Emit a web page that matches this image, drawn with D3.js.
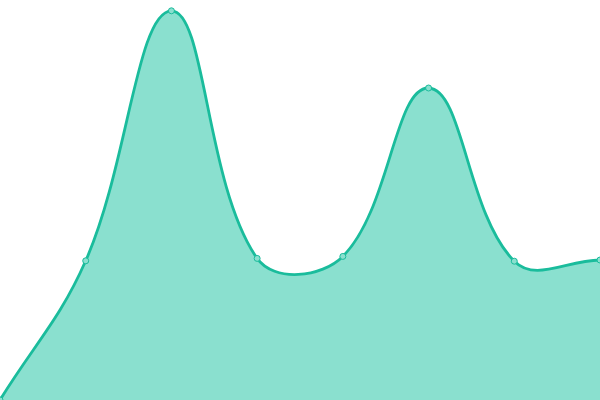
<!DOCTYPE html>
<html>
<head>
<meta charset="utf-8">
<script src="https://cdn.jsdelivr.net/npm/d3@7"></script>
<style>
  html, body { margin: 0; padding: 0; background: #fff; }
  svg { display: block; }
</style>
</head>
<body>
<svg id="chart" width="600" height="400"></svg>
<script>
const width = 600,
    height = 400

// series values
const labels = ['p0', 'p1', 'p2', 'p3', 'p4', 'p5', 'p6', 'p7']
const values = [0, 34.8, 97.3, 35.4, 35.9, 78, 34.7, 35]

const lineColor = '#1abc9c'
const areaColor = '#8ae0cf'
const tension = 0.4

// spline with distance weighted control points (the usual "tension 0.4" look)
function splineCurve(context) {
    return {
        areaStart() { this._line = 0 },
        areaEnd() { this._line = NaN },
        lineStart() { this._pts = [] },
        point(x, y) { this._pts.push([+x, +y]) },
        lineEnd() {
            let p = this._pts, n = p.length
            if (n) {
                if (this._line) context.lineTo(p[0][0], p[0][1])
                else context.moveTo(p[0][0], p[0][1])
            }
            let cps = p.map((cur, i) => {
                let prev = p[i - 1] || cur, next = p[i + 1] || cur
                let d01 = Math.hypot(cur[0] - prev[0], cur[1] - prev[1])
                let d12 = Math.hypot(next[0] - cur[0], next[1] - cur[1])
                let s01 = d01 / (d01 + d12) || 0, s12 = d12 / (d01 + d12) || 0
                let fa = tension * s01, fb = tension * s12
                let dx = next[0] - prev[0], dy = next[1] - prev[1]
                return {
                    prev: [cur[0] - fa * dx, cur[1] - fa * dy],
                    next: [cur[0] + fb * dx, cur[1] + fb * dy]
                }
            })
            for (let i = 1; i < n; i++) {
                let a = cps[i - 1].next, b = cps[i].prev
                context.bezierCurveTo(a[0], a[1], b[0], b[1], p[i][0], p[i][1])
            }
            if (this._line || (this._line !== 0 && n === 1)) context.closePath()
            this._line = 1 - this._line
        }
    }
}

let x = d3.scalePoint()
    .domain(labels)
    .range([0, width])

let y = d3.scaleLinear()
    .domain([0, 100])
    .range([height, 0])

let svg = d3.select('#chart')

let area = d3.area()
    .x((d, i) => x(labels[i]))
    .y0(height)
    .y1(d => y(d))
    .curve(splineCurve)

let line = d3.line()
    .x((d, i) => x(labels[i]))
    .y(d => y(d))
    .curve(splineCurve)

svg.append('path')
    .datum(values)
    .attr('d', area)
    .attr('fill', areaColor)

svg.append('path')
    .datum(values)
    .attr('d', line)
    .attr('fill', 'none')
    .attr('stroke', lineColor)
    .attr('stroke-width', 2.8)

svg.selectAll('circle')
    .data(values)
    .join('circle')
    .attr('cx', (d, i) => x(labels[i]))
    .attr('cy', d => y(d))
    .attr('r', 3)
    .attr('fill', areaColor)
    .attr('stroke', lineColor)
    .attr('stroke-width', 1)
</script>
</body>
</html>
